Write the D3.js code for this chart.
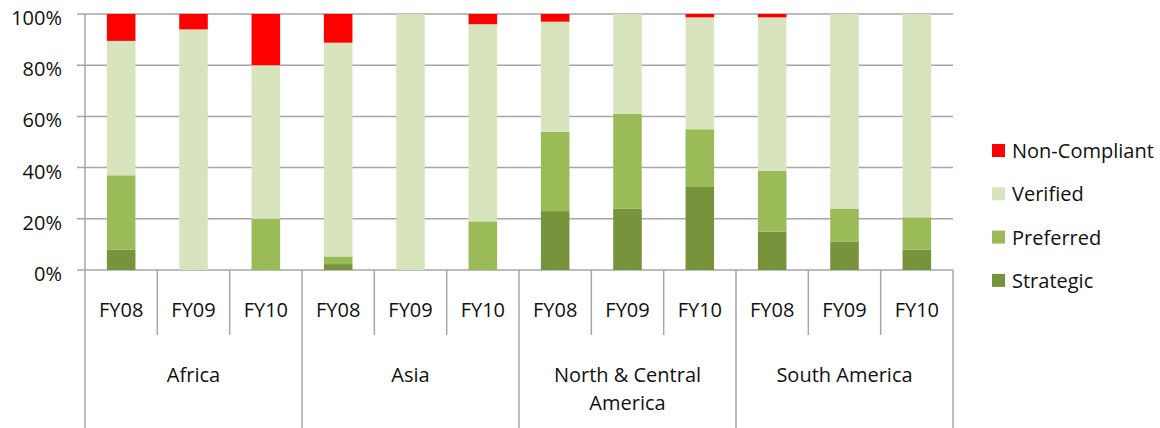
<!DOCTYPE html>
<html><head><meta charset="utf-8">
<script src="https://cdn.jsdelivr.net/npm/d3@7/dist/d3.min.js"></script>
<style>body{margin:0;background:#fff}svg{display:block}text{font-family:"Open Sans",sans-serif;fill:#111}</style>
</head><body>
<svg id="c" width="1160" height="428"></svg>
<script>
const regions = ["Africa", "Asia", "North & Central|America", "South America"];
const years = ["FY08", "FY09", "FY10"];
const seriesNames = ["Strategic", "Preferred", "Verified", "Non-Compliant"];
const strategic    = [8, 0, 0,   2.3, 0, 0,   23, 24, 32.7,   15, 11, 8];
const preferred    = [29, 0, 20, 3, 0, 19,    31, 37, 22.3,   23.7, 13, 12.6];
const verified     = [52.5, 94, 60, 83.5, 100, 77, 43, 39, 43.7, 60, 76, 79.4];
const nonCompliant = [10.5, 6, 20, 11.2, 0, 4, 3, 0, 1.3, 1.3, 0, 0];
const yTicks = [0, 20, 40, 60, 80, 100];
const colors = ["#77933c", "#9bbb59", "#d7e4bd", "#ff0000"];

const svg = d3.select("#c");
const L = 85, R = 953, T = 14, B = 270;
const cats = [];
regions.forEach((r, i) => years.forEach(y => cats.push(i + "|" + y)));
const rows = cats.map((c, i) => ({cat: c, Strategic: strategic[i], Preferred: preferred[i], Verified: verified[i], "Non-Compliant": nonCompliant[i]}));

const x = d3.scaleBand().domain(cats).range([L, R]).paddingInner(0.605).paddingOuter(0.3025);
const step = x.step();
const y = d3.scaleLinear().domain([0, 100]).range([B, T]);

// gridlines
svg.append("g").selectAll("line").data(yTicks).join("line")
  .attr("x1", L - 8).attr("x2", R).attr("y1", d => y(d)).attr("y2", d => y(d))
  .attr("stroke", "#a6a6a6").attr("stroke-width", 1.5);
svg.append("g").selectAll("text").data(yTicks).join("text")
  .attr("x", 62).attr("y", d => y(d) + 11).attr("text-anchor", "end")
  .attr("font-size", 20).text(d => d + "%");

// bars
const stack = d3.stack().keys(seriesNames)(rows);
svg.append("g").selectAll("g").data(stack).join("g").attr("fill", (d, i) => colors[i])
  .selectAll("rect").data(d => d).join("rect")
  .attr("x", d => x(d.data.cat)).attr("width", x.bandwidth())
  .attr("y", d => y(d[1])).attr("height", d => Math.max(0, y(d[0]) - y(d[1])));

// axis lines
svg.append("line").attr("x1", L).attr("x2", L).attr("y1", T).attr("y2", 428).attr("stroke", "#a6a6a6").attr("stroke-width", 1.5);
const ax = svg.append("g");
cats.forEach((c, i) => {
  const xl = L + i * step;
  if (i % 3 !== 0) ax.append("line").attr("x1", xl).attr("x2", xl).attr("y1", B).attr("y2", 335).attr("stroke", "#a6a6a6").attr("stroke-width", 1.5);
  else if (i > 0) ax.append("line").attr("x1", xl).attr("x2", xl).attr("y1", B).attr("y2", 428).attr("stroke", "#a6a6a6").attr("stroke-width", 1.5);
});
ax.append("line").attr("x1", R).attr("x2", R).attr("y1", B).attr("y2", 428).attr("stroke", "#a6a6a6").attr("stroke-width", 1.5);
ax.selectAll("text.fy").data(cats).join("text").attr("class", "fy")
  .attr("x", d => x(d) + x.bandwidth() / 2).attr("y", 317).attr("text-anchor", "middle")
  .attr("font-size", 20).text(d => d.split("|")[1]);
regions.forEach((r, i) => {
  const cx = L + (i * 3 + 1.5) * step;
  const t = ax.append("text").attr("x", cx).attr("y", 382).attr("text-anchor", "middle").attr("font-size", 20);
  r.split("|").forEach((ln, j) => t.append("tspan").attr("x", cx).attr("dy", j ? 28 : 0).text(ln));
});

// legend
const leg = svg.append("g");
const legOrder = [3, 2, 1, 0];
legOrder.forEach((k, j) => {
  const cy = 151 + j * 43.3;
  leg.append("rect").attr("x", 992).attr("y", cy - 7).attr("width", 13).attr("height", 13).attr("fill", colors[k]);
  leg.append("text").attr("x", 1012).attr("y", cy + 7).attr("font-size", 20).text(seriesNames[k]);
});
</script>
</body></html>
